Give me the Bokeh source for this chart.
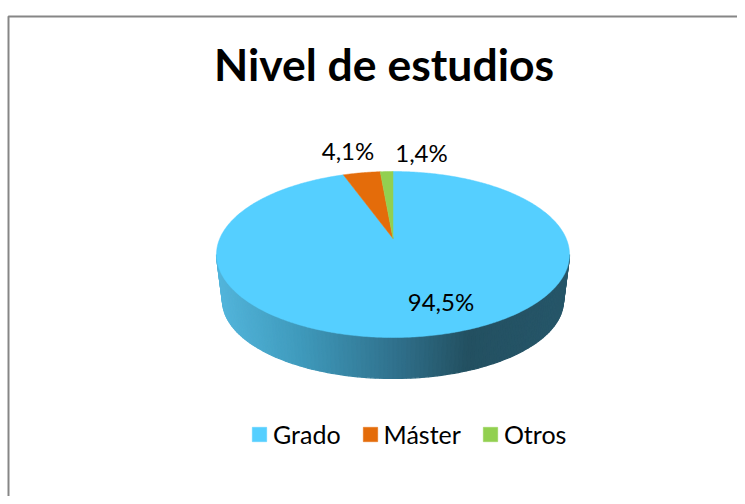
import numpy as np
from bokeh.embed import file_html
from bokeh.resources import INLINE
from bokeh.plotting import figure
from bokeh.models import Legend, LegendItem
from bokeh.core.properties import value

chart_title = "Nivel de estudios"
categories = ["Grado", "Máster", "Otros"]
shares = [94.5, 4.1, 1.4]
share_labels = ["94,5%", "4,1%", "1,4%"]
colors = ["#55CFFF", "#E46C0A", "#92D050"]

# layout of the tilted disc, in pixels
CX, TOP, APEX, BOTTOM, RX = 392.5, 171.0, 238.0, 337.0, 176.5
WALL_CY, WALL_RX, WALL_RY = 300.0, 170.5, 78.0
RIM_CY, RIM_RY = 254.0, 83.0
FONT = value("Lato")

# projective map of a circle to the ellipse, so that slices meet at the apex
c = (2 * APEX - TOP - BOTTOM) / (TOP - BOTTOM)
a = TOP * (1 + c) - APEX
d = RX * np.sqrt(1 - c * c)


def project(theta):
    u, v = np.sin(theta), np.cos(theta)
    w = 1 + c * v
    return CX + d * u / w, (a * v + APEX) / w


def shade(x):
    xs = [216, 222, 300, 400, 467, 569]
    stops = np.array([[82, 180, 218], [82, 180, 218], [63, 154, 188],
                      [47, 111, 138], [35, 80, 97], [38, 86, 105]], float)
    r = [np.interp(x, xs, stops[:, i]) for i in range(3)]
    return "#%02x%02x%02x" % tuple(int(round(v)) for v in r)


p = figure(width=737, height=496, x_range=(0, 737), y_range=(496, 0),
           output_backend="svg", toolbar_location=None, min_border=0,
           outline_line_color=None, background_fill_color="white",
           border_fill_color="white")
p.axis.visible = False
p.grid.visible = False

# frame of the chart area
p.line([8, 8, 737], [496, 16, 16], line_color="#868686", line_width=2)

# side wall, in narrow shaded strips
ts = np.linspace(np.pi, 2 * np.pi, 121)
wx, wy, wc = [], [], []
for t0, t1 in zip(ts[:-1], ts[1:]):
    px0, py0 = CX + RX * np.cos(t0), RIM_CY - RIM_RY * np.sin(t0)
    px1, py1 = CX + RX * np.cos(t1), RIM_CY - RIM_RY * np.sin(t1)
    qx0, qy0 = CX + WALL_RX * np.cos(t0), WALL_CY - WALL_RY * np.sin(t0)
    qx1, qy1 = CX + WALL_RX * np.cos(t1), WALL_CY - WALL_RY * np.sin(t1)
    wx.append([px0, px1, qx1, qx0])
    wy.append([py0, py1, qy1, qy0])
    wc.append(shade((px0 + px1 + qx0 + qx1) / 4))
p.patches(wx, wy, fill_color=wc, line_color=wc, line_width=1.2)

# top face, one slice per share, clockwise from twelve o'clock
ends = np.cumsum(shares) / np.sum(shares) * 2 * np.pi
starts = np.r_[0, ends[:-1]]
slices = []
for s, e, col in zip(starts, ends, colors):
    th = np.linspace(s, e, max(4, int((e - s) * 90)))
    x, y = project(th)
    r = p.patch(np.r_[CX, x], np.r_[APEX, y], fill_color=col, line_color=col, line_width=0.5)
    slices.append(r)

# data labels
lab_x = [440.5, 347.5, 421]
lab_y = [300.5, 149.5, 151.5]
p.text(lab_x, lab_y, text=share_labels, text_font=FONT, text_font_size="24px",
       text_align="center", text_baseline="alphabetic", text_color="#000000")

# title
p.text([383.5], [63], text=[chart_title], text_font=FONT, text_font_size="44.5px",
       text_font_style="bold", text_align="center", text_baseline="alphabetic",
       text_color="#000000")

legend = Legend(items=[LegendItem(label=n, renderers=[r]) for n, r in zip(categories, slices)],
                orientation="horizontal", location=(250, 47), margin=0, padding=0,
                spacing=20, glyph_width=18, glyph_height=18, label_standoff=5,
                label_text_font="Lato", label_text_font_size="25px", label_text_color="#000000",
                border_line_color=None, background_fill_alpha=0)
p.add_layout(legend, "center")

open("out.html", "w").write(file_html(p, INLINE))
